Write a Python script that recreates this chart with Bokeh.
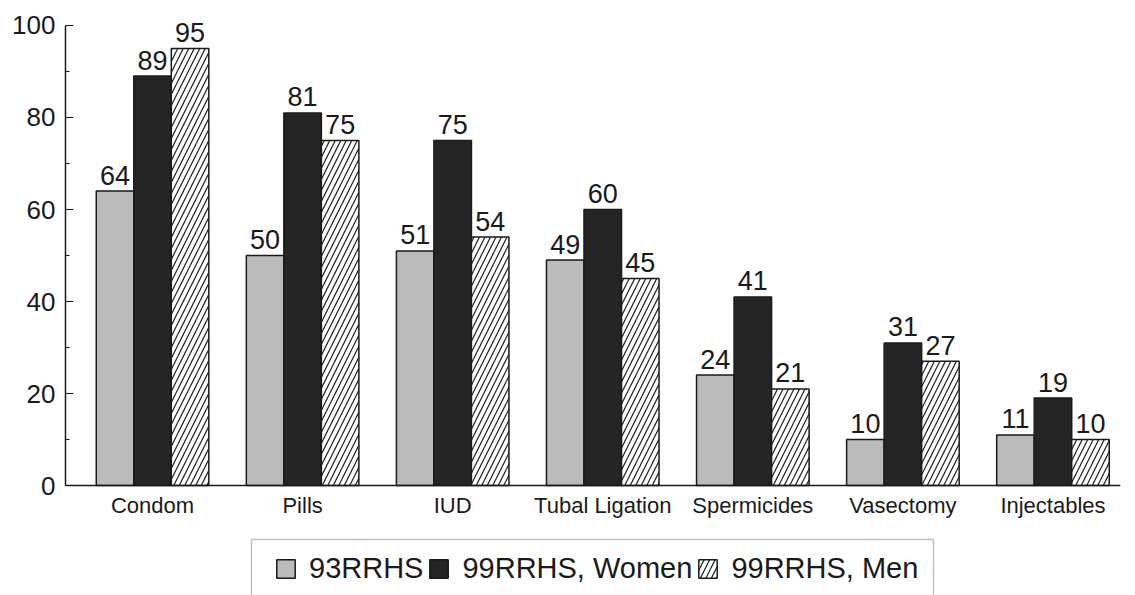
from bokeh.plotting import figure
from bokeh.models import ColumnDataSource, Legend, LegendItem, FixedTicker, Range1d, Span, BoxAnnotation
from bokeh.core.properties import value
from bokeh.embed import file_html
from bokeh.resources import INLINE

categories = ["Condom", "Pills", "IUD", "Tubal Ligation", "Spermicides", "Vasectomy", "Injectables"]
series_names = ["93RRHS", "99RRHS, Women", "99RRHS, Men"]
rrhs93 = [64, 50, 51, 49, 24, 10, 11]
rrhs99_women = [89, 81, 75, 60, 41, 31, 19]
rrhs99_men = [95, 75, 54, 45, 21, 27, 10]
y_ticks = [0, 20, 40, 60, 80, 100]

FONT = "Liberation Sans"

p = figure(frame_width=1055, frame_height=585, output_backend="svg", toolbar_location=None,
           x_range=Range1d(-0.58, 6.45), y_range=Range1d(-23.91, 103.26),
           x_axis_location=None,
           min_border_left=65, min_border_right=15, min_border_top=10, min_border_bottom=0)
p.background_fill_color = "white"
p.border_fill_color = "white"
p.outline_line_color = None
p.xgrid.visible = False
p.ygrid.visible = False

idx = list(range(len(categories)))
width = 0.25
offsets = [-0.25, 0.0, 0.25]
series = [rrhs93, rrhs99_women, rrhs99_men]
styles = [
    dict(fill_color="#bbbbbb", hatch_pattern=None),
    dict(fill_color="#252525", hatch_pattern=None),
    dict(fill_color="white", hatch_pattern="/"),
]

renderers = []
for vals, off, st in zip(series, offsets, styles):
    src = ColumnDataSource(dict(x=[i + off for i in idx], top=vals, lab=[str(v) for v in vals]))
    kw = dict(x="x", top="top", bottom=0, width=width, source=src,
              fill_color=st["fill_color"], line_color="#1a1a1a", line_width=1.5)
    if st["hatch_pattern"]:
        kw.update(hatch_pattern=st["hatch_pattern"], hatch_color="#1a1a1a",
                  hatch_scale=11, hatch_weight=1.2)
    r = p.vbar(**kw)
    renderers.append(r)
    p.text(x="x", y="top", text="lab", source=src, text_align="center",
           text_baseline="alphabetic", y_offset=-16, text_font=value(FONT),
           text_font_size="27px", text_color="#1a1a1a")

# x axis line at y = 0 and category labels
p.add_layout(Span(location=0, dimension="width", line_color="#1a1a1a", line_width=1.5))
cat_src = ColumnDataSource(dict(x=idx, y=[0] * len(idx), lab=categories))
p.text(x="x", y="y", text="lab", source=cat_src, text_align="center", text_baseline="alphabetic",
       y_offset=20, text_font=value(FONT), text_font_size="22px", text_color="#1a1a1a")

# y axis
p.yaxis.bounds = (0, 100)
p.yaxis.ticker = FixedTicker(ticks=y_ticks, minor_ticks=list(range(0, 101, 10)))
p.yaxis.major_tick_in = 8
p.yaxis.major_tick_out = 0
p.yaxis.minor_tick_in = 4
p.yaxis.minor_tick_out = 0
p.yaxis.axis_line_width = 1.5
p.yaxis.major_tick_line_width = 1.2
p.yaxis.axis_line_color = "#1a1a1a"
p.yaxis.major_tick_line_color = "#1a1a1a"
p.yaxis.minor_tick_line_color = "#1a1a1a"
p.yaxis.major_label_text_font = FONT
p.yaxis.major_label_text_font_size = "26px"
p.yaxis.major_label_text_color = "#1a1a1a"
p.yaxis.major_label_standoff = 10

# legend frame (screen units) and legend items
p.add_layout(BoxAnnotation(left=186, right=868, bottom=-5, top=56,
                           left_units="screen", right_units="screen",
                           top_units="screen", bottom_units="screen",
                           fill_color="white", fill_alpha=1.0,
                           line_color="#333333", line_width=1.5, level="annotation"))

legend = Legend(items=[LegendItem(label=n, renderers=[r]) for n, r in zip(series_names, renderers)],
                orientation="horizontal", location=(209, 10))
legend.label_text_font = FONT
legend.label_text_font_size = "29px"
legend.label_text_color = "#1a1a1a"
legend.glyph_width = 23
legend.glyph_height = 23
legend.label_standoff = 12
legend.spacing = 4
legend.padding = 19
legend.margin = 0
legend.border_line_color = None
legend.background_fill_alpha = 0
p.add_layout(legend, "center")

open("out.html", "w").write(file_html(p, INLINE))
